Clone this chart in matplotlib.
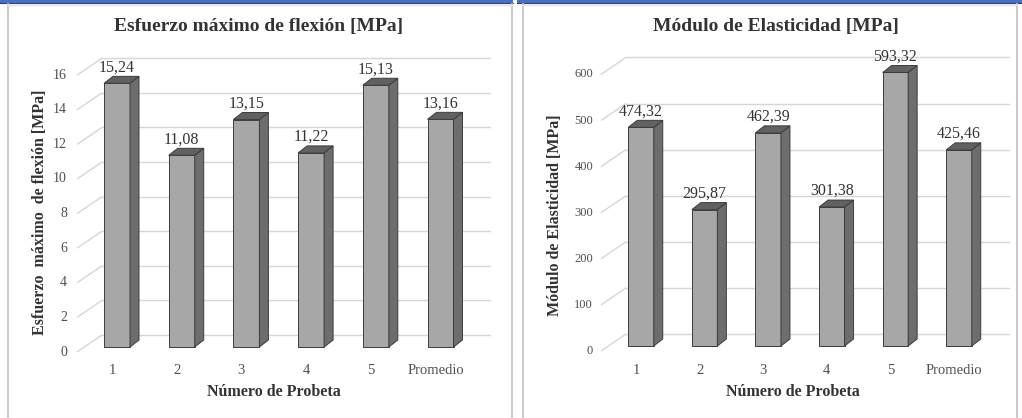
import matplotlib
matplotlib.use("Agg")
import matplotlib.pyplot as plt
from matplotlib.patches import Polygon, Rectangle

# ---- data -------------------------------------------------------------
categories = ["1", "2", "3", "4", "5", "Promedio"]
esfuerzo = [15.24, 11.08, 13.15, 11.22, 15.13, 13.16]
modulo = [474.32, 295.87, 462.39, 301.38, 593.32, 425.46]
esfuerzo_ticks = [0, 2, 4, 6, 8, 10, 12, 14, 16]
modulo_ticks = [0, 100, 200, 300, 400, 500, 600]

# ---- style ------------------------------------------------------------
W, H = 1022, 418
SERIF = ["Liberation Serif", "DejaVu Serif"]
FRONT = "#a7a7a7"
SIDE = "#6d6d6d"
TOP = "#616161"
EDGE = "#3c3c3c"
GRID = "#d6d6d6"
TXT = "#333333"
TICK = "#505050"

fig = plt.figure(figsize=(W / 100, H / 100), dpi=100)
fig.patch.set_facecolor("white")

# background layer: header strip and panel frames (pixel coordinates)
bg = fig.add_axes([0, 0, 1, 1])
bg.set_xlim(0, W)
bg.set_ylim(H, 0)
bg.axis("off")
bg.add_patch(Rectangle((0, 0), 513, 3, color="#4a6fc1", lw=0))
bg.add_patch(Rectangle((517, 0), W - 517, 3, color="#4a6fc1", lw=0))
bg.plot([0, 513], [3.3, 3.3], color="#27448e", lw=0.8)
bg.plot([517, W], [3.3, 3.3], color="#27448e", lw=0.8)
for xa, xb in ((7.5, 512), (522.5, 1017)):
    bg.plot([xa, xa], [4, H], color="#c6c6c6", lw=1.3)
    bg.plot([xb, xb], [4, H], color="#c6c6c6", lw=1.3)
    bg.plot([xa, xb], [5, 5], color="#e4e4e4", lw=1.0)


def draw_panel(vals, ticks, tick_fs, title, ylabel, cfg):
    L, T, R, B = cfg["box"]
    x0, step, y0, sy = cfg["x0"], cfg["step"], cfg["y0"], cfg["sy"]
    ax = fig.add_axes([L / W, 1 - B / H, (R - L) / W, (B - T) / H])
    ax.set_xlim((L - x0) / step, (R - x0) / step)
    ax.set_ylim((y0 - B) / sy, (y0 - T) / sy)
    ax.axis("off")

    def ux(p):
        return p / step

    def uy(p):
        return p / sy

    def dx_of(px):
        return (px - x0) / step

    wall_fx = dx_of(cfg["wall_front_x"])
    wall_bx = dx_of(cfg["wall_back_x"])
    grid_r = dx_of(cfg["grid_right"])
    lab_off = uy(5)
    back_off = uy(12)

    # side-wall and back-wall gridlines with the value axis labels
    for t in ticks:
        ax.plot([wall_fx, wall_bx], [t - lab_off, t + back_off],
                color=GRID, lw=1.0, zorder=1, solid_capstyle="butt")
        ax.plot([wall_bx, grid_r], [t + back_off, t + back_off],
                color=GRID, lw=1.0, zorder=1)
        ax.text(dx_of(cfg["tick_x"]), t - lab_off, f"{t}", ha="right",
                va="center", fontsize=tick_fs, family=SERIF, color=TICK)

    xs = list(range(len(vals)))
    bw = cfg["bw"] / step
    ax.bar(xs, vals, width=bw, color=FRONT, edgecolor=EDGE, lw=0.7, zorder=3)
    ddx, ddy = ux(9), uy(7)
    cat_y = (y0 - 371) / sy
    for x, v, cat in zip(xs, vals, categories):
        xl, xr = x - bw / 2, x + bw / 2
        ax.add_patch(Polygon([(xr, 0), (xr + ddx, ddy), (xr + ddx, v + ddy), (xr, v)],
                             closed=True, facecolor=SIDE, edgecolor=EDGE, lw=0.7, zorder=3))
        ax.add_patch(Polygon([(xl, v), (xr, v), (xr + ddx, v + ddy), (xl + ddx, v + ddy)],
                             closed=True, facecolor=TOP, edgecolor=EDGE, lw=0.7, zorder=3))
        ax.text(x, v + ddy + uy(1), f"{v:.2f}".replace(".", ","), ha="center",
                va="bottom", fontsize=11.5, family=SERIF, color=TXT, zorder=4)
        ax.text(x - ux(5), cat_y, cat, ha="center", va="center",
                fontsize=10.5, family=SERIF, color=TICK)

    fig.text(cfg["title_x"] / W, 1 - 27 / H, title, ha="center", va="center",
             fontsize=14, fontweight="bold", family=SERIF, color=TXT)
    fig.text(cfg["xlabel_x"] / W, 1 - 392 / H, "Número de Probeta", ha="center",
             va="center", fontsize=11.5, fontweight="bold", family=SERIF, color=TXT)
    fig.text(cfg["ylabel_x"] / W, 1 - cfg["ylabel_y"] / H, ylabel, ha="center",
             va="center", rotation=90, fontsize=11.5, fontweight="bold",
             family=SERIF, color=TXT)


draw_panel(
    esfuerzo, esfuerzo_ticks, 10,
    "Esfuerzo máximo de flexión [MPa]",
    "Esfuerzo  máximo  de flexión [MPa]",
    dict(box=(20, 40, 505, 400), x0=117, step=64.7, y0=347, sy=17.3, bw=26,
         wall_front_x=77, wall_back_x=102, grid_right=490, tick_x=67,
         title_x=259, xlabel_x=274, ylabel_x=40, ylabel_y=212),
)

draw_panel(
    modulo, modulo_ticks, 9,
    "Módulo de Elasticidad [MPa]",
    "Módulo de Elasticidad [MPa]",
    dict(box=(530, 40, 1015, 400), x0=641, step=63.6, y0=346, sy=0.461, bw=25.5,
         wall_front_x=601, wall_back_x=626, grid_right=1009, tick_x=593,
         title_x=776, xlabel_x=793, ylabel_x=555, ylabel_y=215),
)

fig.savefig("out.png", dpi=100, facecolor="white")
